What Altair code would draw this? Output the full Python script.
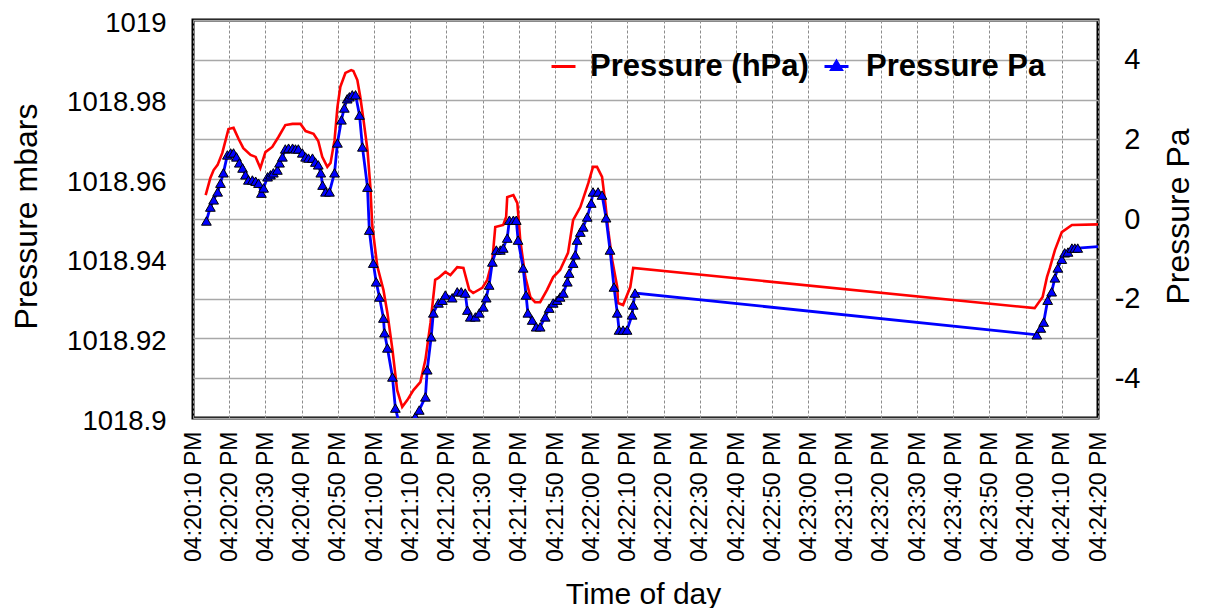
import altair as alt
import pandas as pd

# ---- data -------------------------------------------------------------
# seconds past 04:20:00 PM and pressure in hPa (left axis, red line)
hpa_sec = [13.5, 14.8, 15.7, 16.8, 18.1, 19.8, 21.2, 22.6, 23.9, 25.9, 27.3, 28.6,
           30.0, 31.9, 33.6, 35.5, 37.5, 39.7, 41.1, 43.3, 44.6, 45.7, 47.1, 48.0,
           49.1, 49.9, 50.7, 52.1, 53.7, 54.3, 55.4, 56.2, 57.1, 58.2, 59.0, 59.5,
           60.9, 62.6, 63.7, 65.1, 66.4, 67.8, 69.2, 70.9, 72.8, 74.2, 75.6, 76.9,
           77.8, 79.7, 81.1, 83.0, 84.7, 86.3, 87.4, 89.9, 91.3, 92.7, 93.5, 95.7,
           96.5, 96.8, 98.5, 99.6, 100.4, 101.8, 103.2, 104.5, 105.9, 107.8, 109.5,
           111.4, 113.6, 115.0, 117.0, 119.2, 120.5, 121.6, 123.0, 123.9, 124.7,
           125.8, 127.2, 127.4, 128.8, 130.8, 131.6, 242.5, 244.7, 245.9, 246.7,
           248.1, 250.0, 252.8, 261.9]
hpa_val = [1018.9560, 1018.9603, 1018.9623, 1018.9636, 1018.9666, 1018.9726, 1018.9729,
           1018.9701, 1018.9678, 1018.9661, 1018.9656, 1018.9628, 1018.9668, 1018.9681,
           1018.9706, 1018.9736, 1018.9739, 1018.9739, 1018.9721, 1018.9714, 1018.9696,
           1018.9656, 1018.9631, 1018.9641, 1018.9698, 1018.9781, 1018.9832, 1018.9867,
           1018.9874, 1018.9872, 1018.9849, 1018.9807, 1018.9749, 1018.9673, 1018.9580,
           1018.9485, 1018.9382, 1018.9322, 1018.9264, 1018.9171, 1018.9070, 1018.9028,
           1018.9045, 1018.9070, 1018.9090, 1018.9146, 1018.9239, 1018.9347, 1018.9352,
           1018.9367, 1018.9359, 1018.9379, 1018.9377, 1018.9322, 1018.9314, 1018.9327,
           1018.9347, 1018.9397, 1018.9480, 1018.9485, 1018.9505, 1018.9555, 1018.9560,
           1018.9540, 1018.9447, 1018.9354, 1018.9304, 1018.9291, 1018.9291, 1018.9322,
           1018.9354, 1018.9372, 1018.9415, 1018.9497, 1018.9530, 1018.9590, 1018.9631,
           1018.9631, 1018.9606, 1018.9540, 1018.9472, 1018.9397, 1018.9329, 1018.9289,
           1018.9284, 1018.9329, 1018.9377, 1018.9276, 1018.9304, 1018.9354, 1018.9377,
           1018.9422, 1018.9467, 1018.9485, 1018.9487]

# seconds past 04:20:00 PM and pressure in Pa (right axis, blue line with markers)
pa_sec = [13.7, 14.8, 15.7, 16.8, 17.6, 18.4, 19.5, 20.4, 21.2, 22.0, 22.8, 23.7, 24.5,
          25.3, 26.4, 27.3, 28.1, 28.9, 29.5, 30.6, 31.4, 32.2, 33.3, 33.9, 34.7, 35.5,
          36.4, 37.5, 38.3, 39.1, 40.2, 41.1, 41.9, 43.0, 43.8, 44.6, 45.3, 45.8, 46.6,
          47.7, 49.1, 49.9, 51.0, 51.8, 52.6, 53.2, 54.0, 54.9, 56.0, 56.8, 58.2, 58.7,
          59.8, 60.6, 61.5, 62.6, 62.9, 63.7, 65.1, 65.9, 67.0, 68.7, 70.3, 71.4, 72.5,
          74.2, 74.7, 75.8, 76.4, 77.8, 78.9, 79.7, 81.6, 83.0, 84.1, 85.2, 85.8, 86.6,
          88.0, 89.1, 90.2, 91.0, 91.8, 92.7, 93.8, 94.9, 95.7, 96.8, 97.4, 98.5, 99.3,
          99.8, 101.2, 102.0, 102.5, 103.7, 104.8, 105.9, 107.3, 108.4, 109.5, 110.6,
          111.4, 112.3, 113.4, 113.9, 115.0, 115.6, 116.1, 117.0, 117.8, 118.9, 120.0,
          120.5, 121.9, 123.0, 124.1, 125.2, 126.3, 127.2, 127.7, 128.8, 129.9, 131.3,
          131.6, 132.1, 243.1, 244.2, 245.0, 246.1, 247.2, 248.1, 248.9, 250.0, 250.8,
          251.7, 252.8, 253.6, 254.4, 261.9]
pa_val = [-0.05, 0.30, 0.48, 0.68, 0.90, 1.16, 1.61, 1.66, 1.66, 1.56, 1.41, 1.28, 1.11,
          0.98, 0.98, 0.95, 0.90, 0.65, 0.78, 1.06, 1.11, 1.16, 1.23, 1.41, 1.56, 1.76,
          1.78, 1.78, 1.76, 1.76, 1.66, 1.56, 1.53, 1.53, 1.43, 1.36, 1.16, 0.85, 0.68,
          0.68, 1.16, 1.91, 2.49, 2.79, 3.02, 3.07, 3.12, 3.12, 2.61, 1.81, 0.80, -0.28,
          -1.11, -1.58, -1.96, -2.49, -2.86, -3.24, -3.97, -4.75, -5.15, -5.35, -5.08,
          -4.97, -4.80, -4.47, -3.79, -2.96, -2.36, -2.11, -2.04, -1.91, -1.98, -1.83,
          -1.83, -1.86, -2.29, -2.46, -2.46, -2.36, -2.21, -1.98, -1.66, -1.08, -0.78,
          -0.78, -0.73, -0.48, -0.03, -0.03, -0.03, -0.53, -1.23, -1.91, -2.36, -2.54,
          -2.71, -2.71, -2.46, -2.24, -2.11, -2.04, -1.96, -1.86, -1.58, -1.36, -1.11,
          -0.90, -0.53, -0.33, -0.20, 0.05, 0.40, 0.68, 0.68, 0.60, 0.03, -0.78, -1.71,
          -2.36, -2.79, -2.79, -2.79, -2.41, -2.16, -1.86, -2.91, -2.74, -2.59, -2.04,
          -1.83, -1.48, -1.23, -1.01, -0.85, -0.83, -0.73, -0.73, -0.73, -0.68]

# x tick positions (seconds past 04:20:00 PM) and axis ranges
tick_sec = list(range(10, 261, 10))
hpa_ticks = [1018.9, 1018.92, 1018.94, 1018.96, 1018.98, 1019.0]
pa_ticks = list(range(-5, 6))

series_hpa = "Pressure (hPa)"
series_pa = "Pressure Pa"

# ---- build tables ---------------------------------------------------------
base = pd.Timestamp("2024-01-01 16:20:00")


def iso(secs):
    ts = base + pd.to_timedelta(pd.Series(secs), unit="s")
    return ts.dt.strftime("%Y-%m-%dT%H:%M:%S.%f").str[:-3]


red_df = pd.DataFrame({"time": iso(hpa_sec), "hpa": hpa_val, "series": series_hpa})
blue_df = pd.DataFrame({"time": iso(pa_sec), "pa": pa_val, "series": series_pa})


def dt(s):
    return alt.DateTime(year=2024, month=1, date=1, hours=16,
                        minutes=20 + s // 60, seconds=s % 60)


FONT = "Liberation Sans"

x_enc = alt.X(
    "time:T",
    scale=alt.Scale(domain=[dt(10), dt(260)], nice=False),
    axis=alt.Axis(
        values=[dt(s) for s in tick_sec],
        format="%I:%M:%S %p",
        labelAngle=270,
        labelAlign="right",
        labelBaseline="middle",
        labelPadding=13,
        labelFontSize=23,
        labelOverlap=False,
        labelFlush=False,
        grid=True,
        gridColor="#8c8c8c",
        gridDash=[3, 2],
        gridWidth=1,
        title="Time of day",
        titleFontSize=30,
        titleX=450,
        titleY=185,
        titleBaseline="alphabetic",
        titleAlign="center",
    ),
)

red = alt.Chart(red_df).mark_line(strokeWidth=2.6, clip=True).encode(
    x=x_enc,
    y=alt.Y(
        "hpa:Q",
        scale=alt.Scale(domain=[1018.9, 1019.0], nice=False, zero=False),
        axis=alt.Axis(
            orient="left",
            values=hpa_ticks,
            format=".6~g",
            grid=False,
            labelFontSize=27.5,
            labelOffset=3,
            labelPadding=27,
            title="Pressure mbars",
            titleFontSize=32,
            titleAngle=270,
            titleX=-157,
            titleY=196,
            titleBaseline="alphabetic",
            titleAlign="center",
        ),
    ),
    stroke=alt.Stroke(
        "series:N",
        scale=alt.Scale(domain=[series_hpa], range=["#ff0000"]),
        legend=alt.Legend(
            orient="none", legendX=355, legendY=31, title=None,
            symbolType="stroke", symbolSize=576, symbolStrokeWidth=3,
            labelFont=FONT, labelFontSize=31, labelFontWeight="bold",
            labelColor="#000000", labelOffset=11, labelLimit=400, padding=0,
        ),
    ),
)

blue = alt.Chart(blue_df).mark_line(
    strokeWidth=2.8, clip=True,
    point=alt.OverlayMarkDef(
        shape="triangle-up", filled=True, fill="#0000ff", stroke="#000000",
        strokeWidth=1, size=95, opacity=1, clip=True,
    ),
).encode(
    x=x_enc,
    y=alt.Y(
        "pa:Q",
        scale=alt.Scale(domain=[-5, 5], nice=False, zero=False),
        axis=alt.Axis(
            orient="right",
            values=pa_ticks,
            labelExpr="datum.value % 2 == 0 ? (datum.value < 0 ? '-' + abs(datum.value) : '' + datum.value) : ''",
            grid=True,
            gridColor="#a8a8a8",
            gridWidth=1.4,
            labelFontSize=29,
            labelAlign="right",
            labelPadding=42,
            title="Pressure Pa",
            titleFontSize=32,
            titleAngle=270,
            titleX=90,
            titleY=196,
            titleBaseline="alphabetic",
            titleAlign="center",
        ),
    ),
    color=alt.Color(
        "series:N",
        scale=alt.Scale(domain=[series_pa], range=["#0000ff"]),
        legend=alt.Legend(
            orient="none", legendX=628, legendY=31, title=None,
            symbolType="M-1,0H1M0,-0.42L0.4,0.26L-0.4,0.26Z",
            symbolSize=576, symbolStrokeWidth=3, symbolFillColor="#0000ff",
            symbolStrokeColor="#0000ff",
            labelFont=FONT, labelFontSize=31, labelFontWeight="bold",
            labelColor="#000000", labelOffset=14, labelLimit=400, padding=0,
        ),
    ),
)

chart = (
    alt.layer(red, blue)
    .resolve_scale(y="independent", color="independent", stroke="independent")
    .properties(
        width=905,
        height=398,
        autosize=alt.AutoSizeParams(type="none"),
        padding={"left": 185, "top": 12, "right": 99, "bottom": 190},
        background="#ffffff",
    )
    .configure_view(stroke="#000000", strokeWidth=3)
    .configure_axis(
        domain=False,
        ticks=False,
        labelFont=FONT,
        titleFont=FONT,
        labelColor="#000000",
        titleColor="#000000",
        titleFontWeight="normal",
    )
)

chart.save("out.html", embed_options={"renderer": "svg", "actions": False})
